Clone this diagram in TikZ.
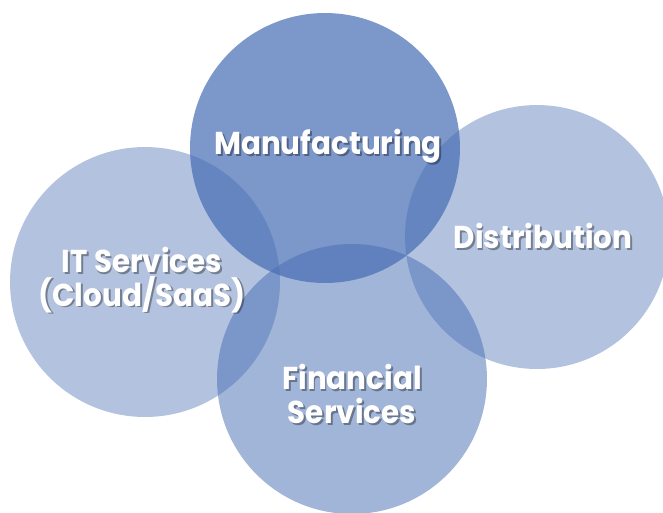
\documentclass[tikz,border=0pt]{standalone}
\usepackage{fontspec}
\usepackage{tikz}
\usetikzlibrary{positioning}
\newfontfamily\gothic{Poppins}[FakeStretch=0.93]
\definecolor{bubbleblue}{RGB}{68,107,178}

% shadowed white text on a bubble
\newcommand{\areatag}[3]{
	\node[areashadow] at (#2) {#3};
	\node[areatext] (#1) at (#2) {#3};
}

\begin{document}
\begin{tikzpicture}[x=0.02cm,y=-0.02cm,semithick]
	\tikzset{bubble/.style={circle, fill=bubbleblue, draw=none, inner sep=0pt, minimum size=5.4cm, fill opacity=0.41},
		areatext/.style={text=white, align=center, inner sep=0pt, font=\gothic\bfseries\fontsize{18}{19}\selectfont},
		areashadow/.style={areatext, text=black, text opacity=0.35, xshift=1.1pt, yshift=-1.1pt}}
	\useasboundingbox (0,0) rectangle (663,512);
	\node[bubble] (it) at (145,282) {};
	\node[bubble, minimum size=5.28cm] (dist) at (537,237) {};
	\node[bubble, fill opacity=0.5] (fin) at (352,379) {};
	\node[bubble, fill opacity=0.7] (manu) at (325,148) {};
	\areatag{manutext}{328,146}{Manufacturing}
	\areatag{disttext}{543,236}{Distribution}
	\areatag{ittext}{142,280}{IT Services\\(Cloud/SaaS)}
	\areatag{fintext}{352,394}{Financial\\Services}
\end{tikzpicture}
\end{document}
